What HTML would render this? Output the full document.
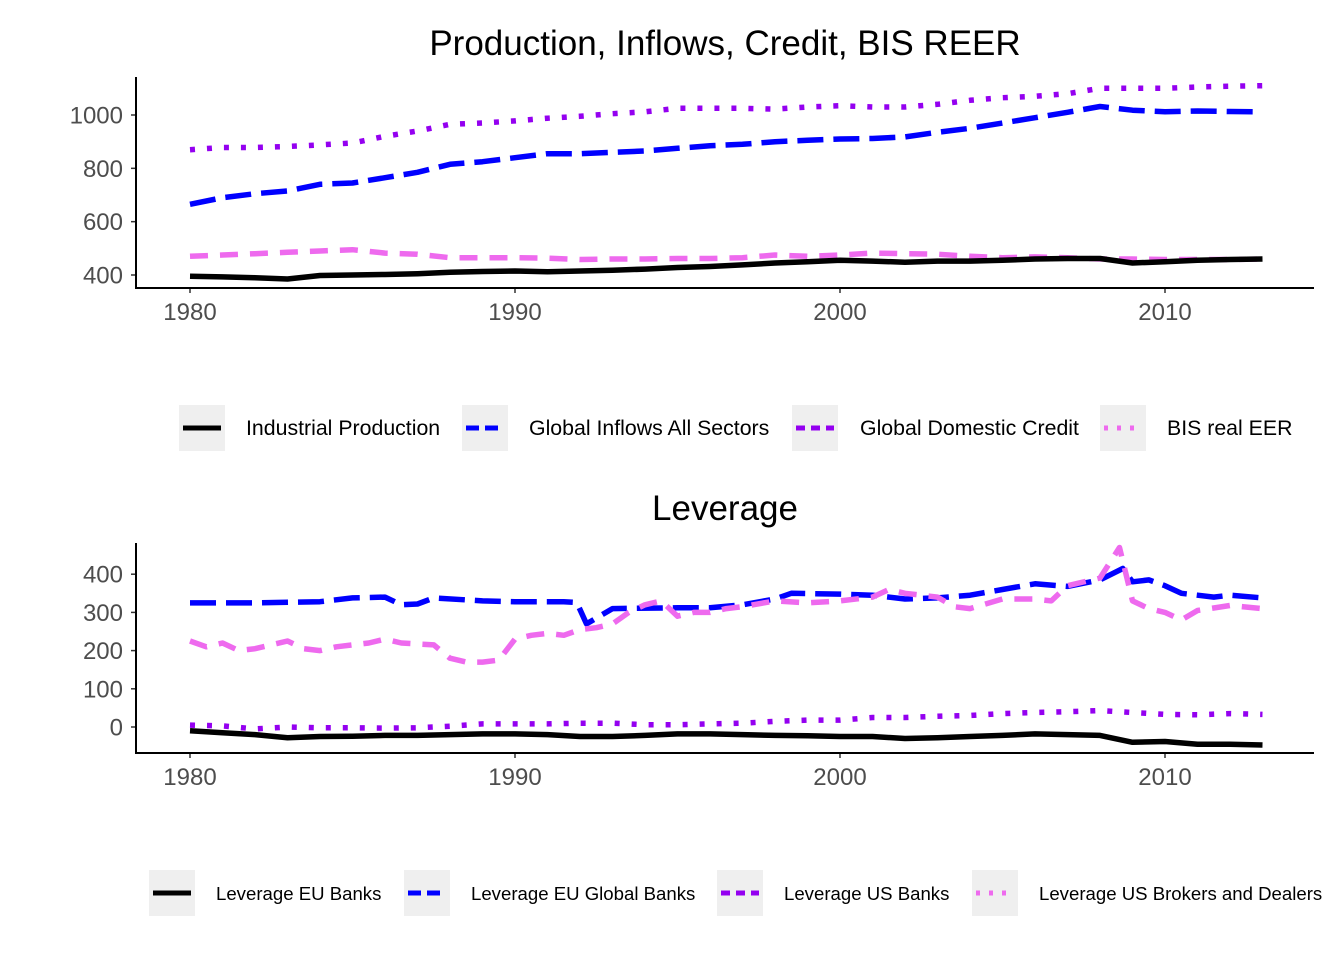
<!DOCTYPE html>
<html><head><meta charset="utf-8"><style>
body{margin:0;background:#fff;}
svg{font-family:"Liberation Sans",Arial,sans-serif;display:block}
</style></head><body>
<svg id="s" width="1344" height="960" xmlns="http://www.w3.org/2000/svg">
<text x="725" y="55" font-size="35" text-anchor="middle" fill="#000">Production, Inflows, Credit, BIS REER</text>
<text x="725" y="520" font-size="35" text-anchor="middle" fill="#000">Leverage</text>
<g id="top"></g>
<g id="bot"></g>
<g id="leg"></g>
</svg>
<script>
const years = [1980,1981,1982,1983,1984,1985,1986,1987,1988,1989,1990,1991,1992,1993,1994,1995,1996,1997,1998,1999,2000,2001,2002,2003,2004,2005,2006,2007,2008,2009,2010,2011,2012,2013];
const ipVals = [395,393,390,385,398,400,402,405,410,413,415,412,415,418,422,428,432,438,445,450,455,452,448,452,452,455,460,462,462,445,450,455,458,460];
const inflowVals = [665,690,705,715,740,745,765,785,815,825,840,855,855,860,865,875,885,890,900,905,910,912,918,935,950,970,990,1010,1032,1018,1012,1015,1013,1012];
const creditVals = [870,878,878,882,888,895,920,940,965,970,978,988,995,1005,1012,1025,1025,1025,1022,1030,1035,1030,1030,1040,1055,1065,1070,1080,1100,1100,1100,1105,1108,1110];
const reerVals = [470,475,480,485,490,495,482,478,465,465,465,463,458,460,460,462,462,465,475,470,475,482,480,478,470,465,468,465,460,460,458,458,458,460];
const topTicks = [400,600,800,1000];
const xTicks = [1980,1990,2000,2010];

const euVals = [-10,-15,-20,-28,-25,-24,-22,-22,-20,-18,-18,-20,-25,-25,-22,-18,-18,-20,-22,-23,-25,-25,-30,-28,-25,-22,-18,-20,-22,-40,-38,-45,-45,-47];
const usVals = [5,3,-5,0,-2,-2,-3,-2,2,8,8,8,10,10,6,6,8,10,15,18,18,25,25,28,30,35,38,40,43,38,33,32,35,33];
const euGlobYears = [1980,1982,1984,1985,1986,1986.5,1987,1987.5,1989,1990,1991.5,1991.9,1992.2,1992.6,1993,1995,1996,1997,1998,1998.5,2000,2001,2002,2003,2004,2005,2006,2007,2008,2008.7,2009,2009.5,2010,2010.5,2011,2011.5,2012,2013];
const euGlobVals = [325,325,328,338,340,320,322,338,330,328,328,326,270,290,310,312,312,320,335,350,348,345,335,338,345,360,375,368,385,415,380,385,370,350,345,340,345,338];
const brokerYears = [1980,1980.5,1981,1981.5,1982,1982.5,1983,1983.5,1984,1984.5,1985,1985.5,1986,1986.5,1987.5,1988,1988.5,1989,1989.5,1990,1990.5,1991,1991.5,1992,1992.5,1993,1993.5,1994,1994.5,1995,1995.5,1996,1996.5,1997,1998,1999,2000,2001,2001.5,2002,2003,2003.5,2004,2005,2006,2006.5,2007,2008,2008.6,2009,2009.5,2010,2010.5,2011,2012,2013];
const brokerVals = [225,210,220,200,205,215,225,205,200,210,215,220,230,220,215,180,170,170,175,230,240,245,240,255,260,270,300,320,330,290,300,300,310,315,330,325,330,340,360,350,340,315,310,335,335,330,370,390,470,330,310,300,280,305,318,310];
const botTicks = [0,100,200,300,400];

const NS="http://www.w3.org/2000/svg";
function mk(tag,attrs,parent){const e=document.createElementNS(NS,tag);for(const k in attrs)e.setAttribute(k,attrs[k]);parent.appendChild(e);return e;}
const xS = y => 190 + (y-1980)*32.5;
const yTop = v => 275 - (v-400)*(160/600);
const yBot = v => 727 - v*0.382;

function drawPanel(g, yS, ticks, axTop, axBot, series, tickName){
  for(const t of ticks){
    const tk=mk('line',{x1:131,x2:136,y1:yS(t),y2:yS(t),stroke:'#333','stroke-width':1.5},g);
    
    
    const tx=mk('text',{x:123,y:yS(t)+8.5,'font-size':24,'text-anchor':'end',fill:'#4d4d4d'},g);
    tx.textContent=t;
    
    
  }
  for(const t of xTicks){
    const tk=mk('line',{x1:xS(t),x2:xS(t),y1:axBot,y2:axBot+5,stroke:'#333','stroke-width':1.5},g);
    
    
    const tx=mk('text',{x:xS(t),y:axBot+32,'font-size':24,'text-anchor':'middle',fill:'#4d4d4d'},g);
    tx.textContent=t;
    
    
  }
  for(const s of series){
    const d=s.xs.map((x,i)=>(i?'L':'M')+xS(x).toFixed(1)+','+yS(s.vs[i]).toFixed(1)).join('');
    const p=mk('path',{d:d,fill:'none',stroke:s.c,'stroke-width':5.5,'stroke-dasharray':s.da||'none','stroke-linejoin':'round'},g);
    
    
  }
  const ay=mk('line',{x1:136,x2:136,y1:axTop,y2:axBot,stroke:'#000','stroke-width':2},g);
  
  
  const ax=mk('line',{x1:135,x2:1314,y1:axBot,y2:axBot,stroke:'#000','stroke-width':2},g);
  
  
}
drawPanel(document.getElementById('top'), yTop, topTicks, 77, 288, [
  {xs:years,vs:reerVals,c:'#ee6aee',da:'18 12',n:'line-bis-reer'},
  {xs:years,vs:ipVals,c:'#000',n:'line-industrial-production'},
  {xs:years,vs:inflowVals,c:'#0000ff',da:'26 10',n:'line-global-inflows'},
  {xs:years,vs:creditVals,c:'#9400f0',da:'5 12',n:'line-global-domestic-credit'}
],'top');
drawPanel(document.getElementById('bot'), yBot, botTicks, 543, 753, [
  {xs:years,vs:usVals,c:'#9400f0',da:'5 12',n:'line-leverage-us-banks'},
  {xs:years,vs:euVals,c:'#000',n:'line-leverage-eu-banks'},
  {xs:euGlobYears,vs:euGlobVals,c:'#0000ff',da:'26 10',n:'line-leverage-eu-global-banks'},
  {xs:brokerYears,vs:brokerVals,c:'#ee6aee',da:'18 12',n:'line-leverage-us-brokers'}
],'bottom');

const lg=document.getElementById('leg');
function legend(items, cy, fs){
  for(const it of items){
    const r=mk('rect',{x:it.k,y:cy-23,width:46,height:46,fill:'#efefef'},lg);
    
    
    const l=mk('line',{x1:it.k+4,x2:it.k+42,y1:cy,y2:cy,stroke:it.c,'stroke-width':5,'stroke-dasharray':it.da||'none'},lg);
    
    
    const t=mk('text',{x:it.t,y:cy+7,'font-size':fs,fill:'#000'},lg);
    t.textContent=it.s;
    
    
  }
}
legend([
 {k:179,t:246,c:'#000',s:'Industrial Production'},
 {k:462,t:529,c:'#0000ff',da:'13 6',s:'Global Inflows All Sectors'},
 {k:792,t:860,c:'#9400f0',da:'9 6',s:'Global Domestic Credit'},
 {k:1100,t:1167,c:'#ee6aee',da:'4 9',s:'BIS real EER'}
],428,21.3);
legend([
 {k:149,t:216,c:'#000',s:'Leverage EU Banks'},
 {k:404,t:471,c:'#0000ff',da:'13 6',s:'Leverage EU Global Banks'},
 {k:717,t:784,c:'#9400f0',da:'9 6',s:'Leverage US Banks'},
 {k:972,t:1039,c:'#ee6aee',da:'4 9',s:'Leverage US Brokers and Dealers'}
],893,18.6);
</script>
</body></html>
